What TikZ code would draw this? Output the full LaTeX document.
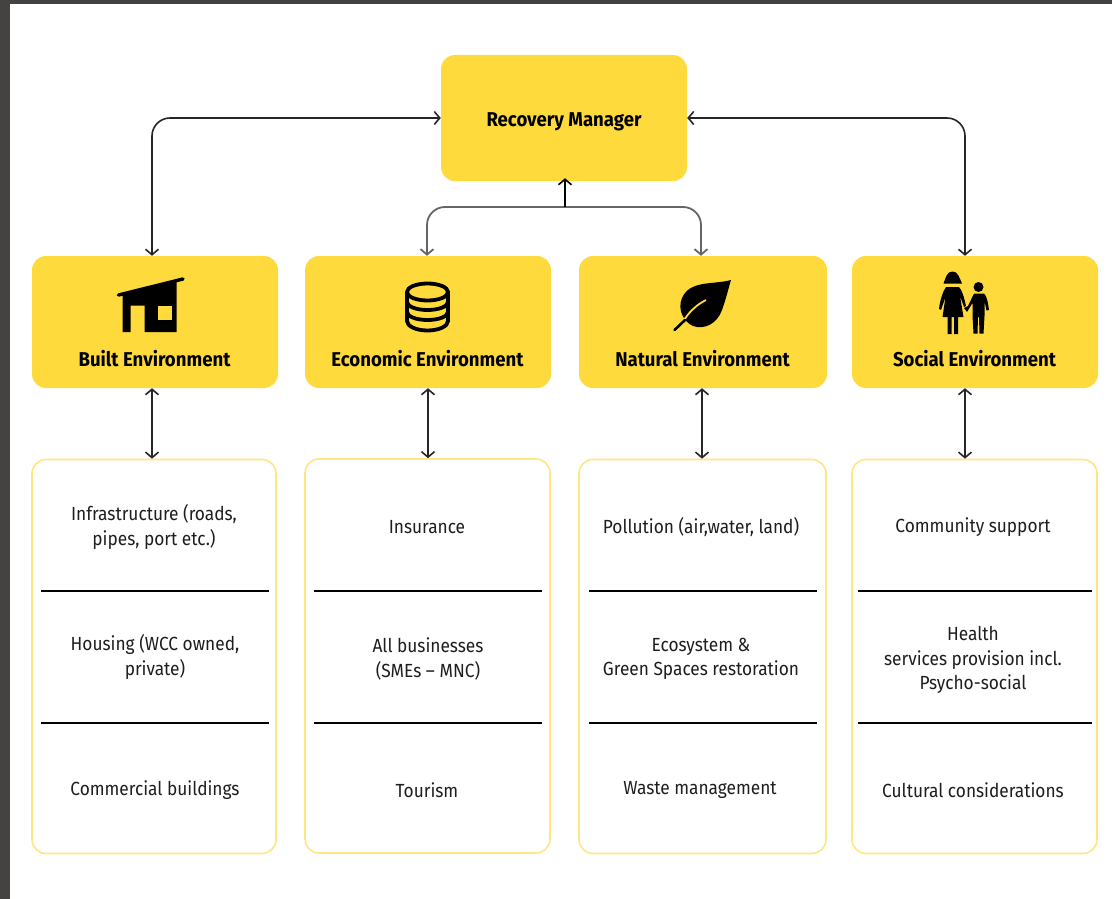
\documentclass[tikz,border=0pt]{standalone}
\usepackage{fontspec}
\setmainfont{Fira Sans}
\newfontfamily\headfont[FakeStretch=0.93]{Fira Sans}
\newfontfamily\itemfont[FakeStretch=0.91]{Fira Sans}
\usepackage{xcolor}
\usetikzlibrary{arrows.meta}
\definecolor{panelyellow}{HTML}{FFDA3D}
\definecolor{rimyellow}{HTML}{FFE680}
\definecolor{framegrey}{HTML}{444341}
\definecolor{inkgrey}{HTML}{1E1E1E}
\tikzset{
  panel/.style={
    fill=panelyellow,
    rounded corners=14pt,
    minimum width=#1,
    inner sep=0pt
  },
  listbox/.style={
    draw=rimyellow,
    fill=white,
    line width=1.6pt,
    rounded corners=14pt,
    minimum width=#1,
    minimum height=394pt,
    inner sep=0pt
  },
  heading/.style={
    font=\headfont\bfseries\fontsize{20}{24}\selectfont,
    text=black,
    inner sep=0pt
  },
  item/.style={
    font=\itemfont\fontsize{19}{24.5}\selectfont,
    text=inkgrey,
    align=center,
    inner sep=0pt
  },
  link/.style={
    draw=black!85,
    line width=1.6pt,
    {Straight Barb[length=5.5pt,width=13pt]}-{Straight Barb[length=5.5pt,width=13pt]}
  },
  sidelink/.style={
    link,
    rounded corners=18pt
  },
  midlink/.style={
    draw=black!60,
    line width=1.8pt,
    rounded corners=18pt,
    -{Straight Barb[length=5.5pt,width=13pt]}
  },
  uplink/.style={
    draw=black,
    line width=1.6pt,
    -{Straight Barb[length=5.5pt,width=13pt]}
  },
  divider/.style={
    draw=black,
    line width=1.2pt
  },
  icon/.style={
    fill=black,
    draw=none
  }
}

\begin{document}
\begin{tikzpicture}[x=1pt,y=-1pt]
  \useasboundingbox (0,0) rectangle (1112,899);

  % Page frame
  \fill[framegrey] (0,0) rectangle (1112,4);
  \fill[framegrey] (0,0) rectangle (10,899);

  % Top box
  \node[panel=246pt, minimum height=126pt] (manager) at (564,118) {};
  \node[heading] (managerlabel) at (564,121.5) {Recovery Manager};

  % Environment boxes
  \node[panel=246pt, minimum height=132pt] (built) at (155,322) {};
  \node[panel=246pt, minimum height=132pt] (economic) at (428,322) {};
  \node[panel=248pt, minimum height=132pt] (natural) at (703,322) {};
  \node[panel=246pt, minimum height=132pt] (social) at (975,322) {};

  \node[heading] (builtlabel) at (154.5,359) {Built Environment};
  \node[heading] (economiclabel) at (427.5,359) {Economic Environment};
  \node[heading] (naturallabel) at (702.5,359) {Natural Environment};
  \node[heading] (sociallabel) at (974.5,359) {Social Environment};

  % Lists below them
  \node[listbox=244pt] (builtlist) at (154,656.5) {};
  \node[listbox=245pt] (economiclist) at (427.5,656) {};
  \node[listbox=247pt] (naturallist) at (702.5,656.5) {};
  \node[listbox=245pt] (sociallist) at (974.5,656.5) {};

  \foreach \left/\right in {41/269,314/542,589/817,858/1092} {
    \foreach \y in {591,723} {
      \draw[divider] (\left,\y) -- (\right,\y);
    }
  }

  \node[item] (infra) at (154,527) {Infrastructure (roads,\\pipes, port etc.)};
  \node[item] (housing) at (155,657) {Housing (WCC owned,\\private)};
  \node[item] (commercial) at (155,790) {Commercial buildings};

  \node[item] (insurance) at (427,527) {Insurance};
  \node[item] (business) at (428,659) {All businesses\\(SMEs – MNC)};
  \node[item] (tourism) at (427,790.5) {Tourism};

  \node[item] (pollution) at (701,527) {Pollution (air,water, land)};
  \node[item] (ecosystem) at (701,659) {Ecosystem \&\\Green Spaces restoration};
  \node[item] (waste) at (700,789.5) {Waste management};

  \node[item] (community) at (973,527.5) {Community support};
  \node[item] (health) at (973,660) {Health\\services provision incl.\\Psycho-social};
  \node[item] (cultural) at (973,790.5) {Cultural considerations};

  % Connectors
  \draw[sidelink] ([xshift=-3pt]built.north) |- (manager.west);
  \draw[sidelink] ([xshift=-10pt]social.north) |- (manager.east);

  \coordinate (hub) at (565,207);
  \draw[midlink] (hub) -| ([xshift=-1pt]economic.north);
  \draw[midlink] (hub) -| ([xshift=-2pt]natural.north);
  \draw[uplink] (hub) -- ([xshift=1pt,yshift=3pt]manager.south);

  \foreach \col/\off in {built/-3,economic/0,natural/-1,social/-10} {
    \draw[link] ([xshift=\off pt]\col.south) -- ([xshift=\off pt]\col.south |- \col list.north);
  }

  % House icon
  \fill[icon] (122.5,293) -- (176.5,280) -- (176.5,332) -- (144.5,332) -- (144.5,305.5)
    -- (130.5,305.5) -- (130.5,332) -- (122.5,332) -- cycle;
  \fill[panelyellow] (157.5,305.5) rectangle (172,319.5);
  \draw[line width=3.4pt, line cap=round] (118.5,295) -- (183,279);

  % Coin stack icon
  \begin{scope}[line width=3.8pt, draw=black, line cap=round]
    \draw (407,292) arc[x radius=20.5pt, y radius=8.5pt, start angle=180, end angle=-180];
    \draw (407,292) -- (407,321) arc[x radius=20.5pt, y radius=9.5pt, start angle=180, end angle=360] -- (448,292);
    \draw (407,302) arc[x radius=20.5pt, y radius=8pt, start angle=180, end angle=360];
    \draw (407,312) arc[x radius=20.5pt, y radius=8pt, start angle=180, end angle=360];
  \end{scope}

  % Leaf icon
  \fill[icon] (731,280) .. controls (712,285) and (690,280) .. (682,298)
    .. controls (677,310) and (684,322) .. (693,326)
    .. controls (704,330) and (717,324) .. (722,310)
    .. controls (726,299) and (728,290) .. (731,280) -- cycle;
  \draw[panelyellow, line width=1.8pt] (706,300) .. controls (696,305) and (688,313) .. (683,322);
  \draw[line width=2.6pt, line cap=round] (674.5,330) -- (685,320);

  % People icon
  \fill[icon] (952.5,271.5) .. controls (947,271.5) and (946,277) .. (943.5,283.5)
    -- (962,283.5) .. controls (959,277) and (958,271.5) .. (952.5,271.5) -- cycle;
  \fill[icon] (946,287) -- (959,287) .. controls (962,290) and (964,297) .. (966,306)
    -- (964,307) -- (960,296) -- (963.5,317) -- (958,317) -- (958,334) -- (954,334) -- (954,317)
    -- (951.5,317) -- (951.5,334) -- (947.5,334) -- (947.5,317) -- (942.5,317) -- (945.5,297)
    -- (941,310) -- (939,309) .. controls (940,300) and (943,291) .. (946,287) -- cycle;
  \fill[icon] (978.5,287) circle[radius=5pt];
  \fill[icon] (974,293.5) -- (984,293.5) .. controls (987,296) and (988,303) .. (989,310)
    -- (986.5,310.5) -- (984.5,301) -- (984.5,316) -- (983.5,333.5) -- (979.5,333.5) -- (979,317)
    -- (978,317) -- (977.5,333.5) -- (973.5,333.5) -- (972.5,316) -- (972.5,303) -- (967,312)
    -- (964,308) -- (968,306) -- cycle;
\end{tikzpicture}
\end{document}
